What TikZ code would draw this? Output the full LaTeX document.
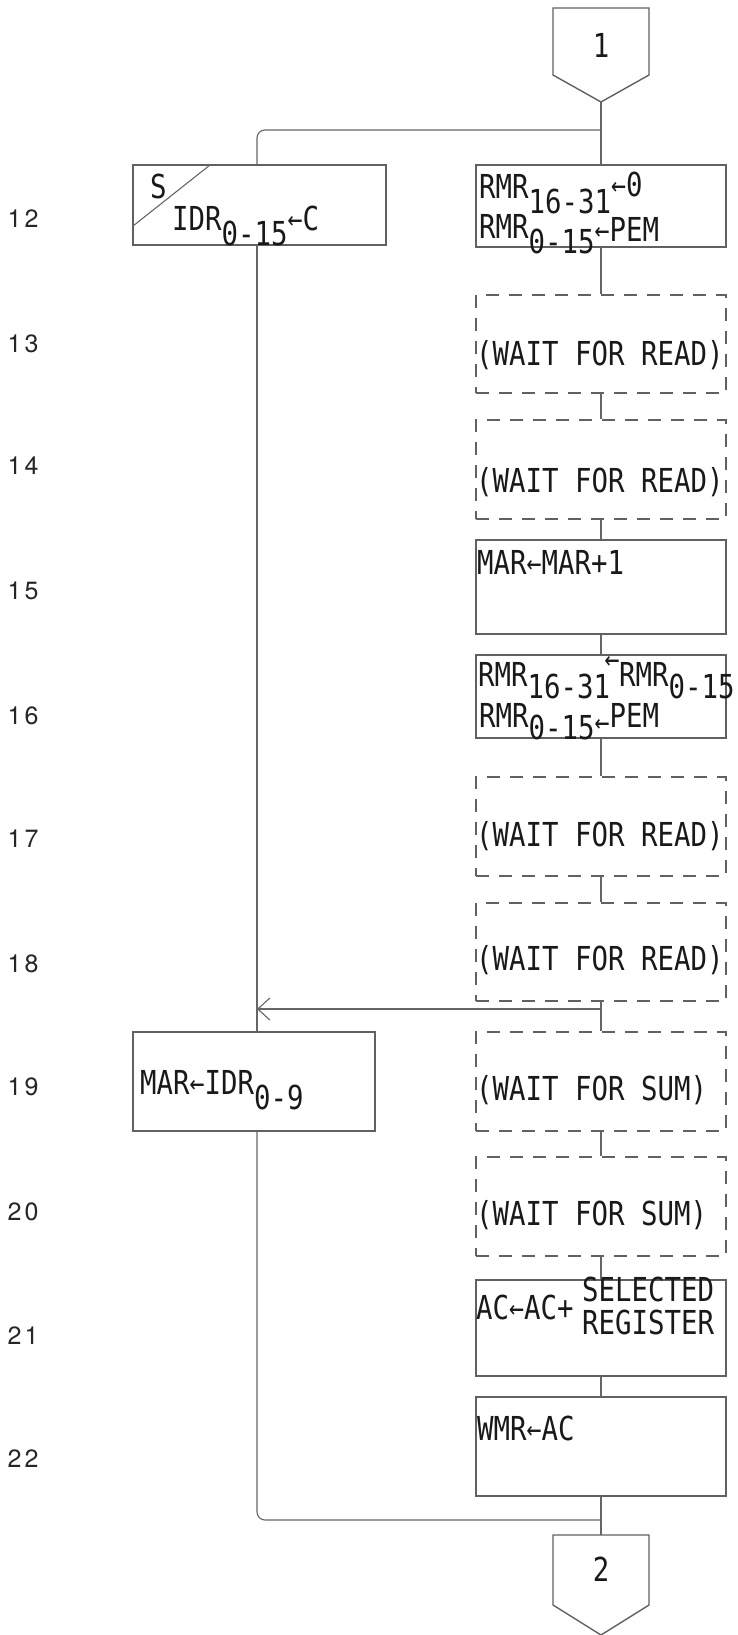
\documentclass[tikz,border=0pt]{standalone}
\usepackage{fontspec}
\usetikzlibrary{arrows.meta}
\newfontfamily\tw[FakeStretch=0.83]{DejaVu Sans Mono}
\newfontfamily\numf{TeX Gyre Heros}
\newcommand\lo[1]{\raisebox{-15pt}{#1}}
\newcommand\los[1]{\raisebox{-12pt}{#1}}
\newcommand\ar{\makebox[15pt][c]{\raisebox{1pt}{\fontsize{30}{30}\selectfont ←}}}
\newcommand\arn{\makebox[4pt][c]{\raisebox{1pt}{\fontsize{30}{30}\selectfont ←}}}
\begin{document}
\begin{tikzpicture}[x=1pt,y=-1pt,
  line/.style={draw=black!60, line width=1.1pt},
  box/.style={draw=black!62, line width=1.7pt, minimum width=250pt, inner sep=0pt},
  dbox/.style={box, dash pattern=on 13pt off 10pt, line width=1.2pt},
  pent/.style={draw=black!62, line width=1.4pt},
  lbl/.style={inner sep=0pt, anchor=base west, font=\tw\fontsize{33}{36}\selectfont, text=black!90},
  num/.style={inner sep=0pt, font=\numf\fontsize{25}{25}\selectfont, text=black!85}]
\useasboundingbox (0,0) rectangle (737,1635);
\coordinate (lx) at (257,0);
% connector 1
\draw[pent] (553,8) -- (649,8) -- (649,75) -- (601,102) -- (553,75) -- cycle;
\node[lbl, anchor=center] (c1) at (601,45) {1};
\coordinate (c1tip) at (601,102);
% right column
\node[box, minimum height=82pt] (r1) at (601,206) {};
\node[dbox, minimum height=98pt] (w1) at (601,344) {};
\node[dbox, minimum height=99pt] (w2) at (601,469.5) {};
\node[box, minimum height=94pt] (m1) at (601,587) {};
\node[box, minimum height=83pt] (r2) at (601,696.5) {};
\node[dbox, minimum height=99pt] (w3) at (601,826.5) {};
\node[dbox, minimum height=98pt] (w4) at (601,952) {};
\node[dbox, minimum height=99pt] (s1) at (601,1081.5) {};
\node[dbox, minimum height=99pt] (s2) at (601,1206.5) {};
\node[box, minimum height=96pt] (ac) at (601,1328) {};
\node[box, minimum height=99pt] (wm) at (601,1446.5) {};
% left column
\node[box, minimum width=253pt, minimum height=80pt] (sb) at (259.5,205) {};
\node[box, minimum width=242pt, minimum height=99pt] (mb) at (254,1081.5) {};
% connector 2
\draw[pent] (553,1535) -- (649,1535) -- (649,1605) -- (601,1635) -- (553,1605) -- cycle;
\node[lbl, anchor=center] (c2) at (601,1569) {2};
\coordinate (c2top) at (601,1535);
% texts
\node[lbl] (t1a) at (479,198) {RMR\lo{16-31}\raisebox{2pt}{\ar 0}};
\node[lbl] (t1b) at (479,238) {RMR\lo{0-15}\raisebox{-3pt}{\ar PEM}};
\node[lbl] (ts) at (150,198) {S};
\draw[line] (210,165) -- (133,226);
\node[lbl] (tidr) at (172,230) {IDR\lo{0-15}\ar C};
\node[lbl] (tw1) at (476,365) {(WAIT FOR READ)};
\node[lbl] (tw2) at (476,492) {(WAIT FOR READ)};
\node[lbl] (tm1) at (477,574) {MAR\ar MAR+1};
\node[lbl] (tr2a) at (478,686) {RMR\los{16-31}\raisebox{16pt}{\arn}\kern5pt RMR\los{0-15}};
\node[lbl] (tr2b) at (479,727) {RMR\los{0-15}\raisebox{-6pt}{\ar}PEM};
\node[lbl] (tw3) at (476,846) {(WAIT FOR READ)};
\node[lbl] (tw4) at (476,970) {(WAIT FOR READ)};
\node[lbl] (ts1) at (476,1100) {(WAIT FOR SUM)};
\node[lbl] (ts2) at (476,1225) {(WAIT FOR SUM)};
\node[lbl] (tac) at (476,1319) {AC\ar AC+};
\node[lbl] (tsel) at (582,1301) {SELECTED};
\node[lbl] (treg) at (582,1334) {REGISTER};
\node[lbl] (twm) at (477,1440) {WMR\ar AC};
\node[lbl] (tmar) at (140,1094) {MAR\ar IDR\lo{0-9}};
% line numbers
\foreach \a/\b/\y in {1/2/219,1/3/344,1/4/466,1/5/591,1/6/716,1/7/839,1/8/964,1/9/1087,2/0/1212,2/1/1336,2/2/1459}
  \node[num] (n\a\b) at (23,\y) {\a\kern3pt\b};
% connectors
\draw[line] (c1tip) -- (r1.north);
\coordinate (j1) at (601,130);
\draw[line, rounded corners=8pt] (j1) -- (lx |- j1) -- (sb.north -| lx);
\draw[line] (r1.south) -- (w1.north);
\draw[line] (w1.south) -- (w2.north);
\draw[line] (w2.south) -- (m1.north);
\draw[line] (m1.south) -- (r2.north);
\draw[line] (r2.south) -- (w3.north);
\draw[line] (w3.south) -- (w4.north);
\draw[line] (w4.south) -- (s1.north);
\draw[line] (s1.south) -- (s2.north);
\draw[line] (s2.south) -- (ac.north);
\draw[line] (ac.south) -- (wm.north);
\draw[line] (wm.south) -- (c2top);
\coordinate (j2) at (601,1009);
\draw[line, -{Straight Barb[length=12pt,width=22pt]}] (j2) -- (lx |- j2);
\draw[line] (sb.south -| lx) -- (mb.north -| lx);
\coordinate (j3) at (601,1520);
\draw[line, rounded corners=8pt] (mb.south -| lx) -- (lx |- j3) -- (j3);
\end{tikzpicture}
\end{document}
